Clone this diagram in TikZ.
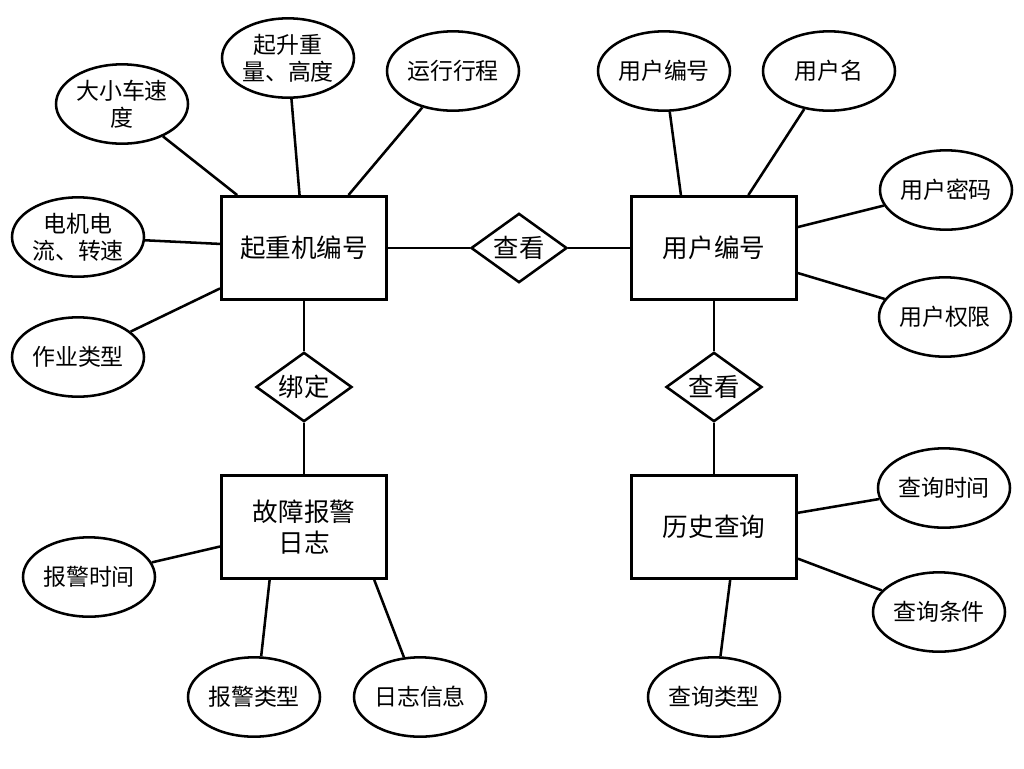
\documentclass[tikz,border=0pt]{standalone}
\usepackage{fontspec}
\setmainfont{Noto Sans CJK SC}
\usetikzlibrary{shapes.geometric}
\tikzset{
  x=0.75pt,y=-0.75pt,
  every path/.style={line width=1.9pt,black},
  attr/.style={draw,ellipse,minimum width=99pt,minimum height=59.5pt,inner sep=0pt,align=center,font=\fontsize{17.2}{20.5}\selectfont},
  ent/.style={draw,rectangle,minimum width=124pt,minimum height=77.5pt,inner sep=0pt,align=center,font=\fontsize{19.2}{23}\selectfont},
  rel/.style={draw,diamond,minimum width=72pt,minimum height=52pt,inner sep=-10pt,align=center,font=\fontsize{19}{22}\selectfont},
}
\begin{document}
\begin{tikzpicture}
\useasboundingbox (0,0) rectangle (1024,768);
\node[ent] (A) at (304,248) {起重机编号};
\node[ent] (B) at (714,248) {用户编号};
\node[ent] (C) at (304,527) {故障报警\\日志};
\node[ent] (D) at (714,527) {历史查询};
\node[rel] (R1) at (519,248) {查看};
\node[rel] (R2) at (304,387) {绑定};
\node[rel] (R3) at (714,387) {查看};
\node[attr] (a1) at (122,104) {大小车速\\度};
\node[attr] (a2) at (288,58) {起升重\\量、高度};
\node[attr] (a3) at (453,71) {运行行程};
\node[attr] (a4) at (78,237) {电机电\\流、转速};
\node[attr] (a5) at (78,357) {作业类型};
\node[attr] (b1) at (664,71) {用户编号};
\node[attr] (b2) at (829,71) {用户名};
\node[attr] (b3) at (946,190) {用户密码};
\node[attr] (b4) at (945,317) {用户权限};
\node[attr] (d1) at (944,488) {查询时间};
\node[attr] (d2) at (939,612) {查询条件};
\node[attr] (d3) at (714,697) {查询类型};
\node[attr] (c1) at (89,577) {报警时间};
\node[attr] (c2) at (254,697) {报警类型};
\node[attr] (c3) at (420,697) {日志信息};
\draw (A) -- (R1);
\draw (R1) -- (B);
\draw (A) -- (R2);
\draw (R2) -- (C);
\draw (B) -- (R3);
\draw (R3) -- (D);
\draw (a1) -- (A);
\draw (a2) -- (A);
\draw (a3) -- (A);
\draw (a4) -- (A);
\draw (a5) -- (A);
\draw (b1.278.5) -- (B.122.4);
\draw (b2) -- (B);
\draw (b3) -- (B);
\draw (b4) -- (B);
\draw (d1) -- (D);
\draw (d2) -- (D);
\draw (d3.81.5) -- (D.287.1);
\draw (c1) -- (C);
\draw (c2.80) -- (C.237.6);
\draw (c3.112) -- (C.323.4);
\end{tikzpicture}
\end{document}
